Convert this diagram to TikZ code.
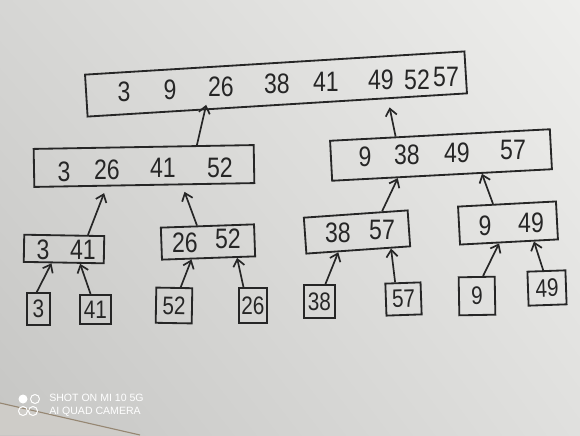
\documentclass[tikz,border=0pt]{standalone}
\usepackage{fontspec}
\setmainfont{Liberation Sans}
\newfontfamily\handfont[FakeStretch=0.82]{Liberation Sans}
\usetikzlibrary{arrows.meta,calc,shadings}
\definecolor{ink}{RGB}{38,38,38}
\definecolor{paperUL}{RGB}{214,214,212}
\definecolor{paperUR}{RGB}{238,238,236}
\definecolor{paperLL}{RGB}{198,198,196}
\definecolor{paperLR}{RGB}{224,224,222}
\definecolor{desk}{RGB}{206,204,200}
\definecolor{deskedge}{RGB}{150,135,115}
\begin{document}
\begin{tikzpicture}[x=0.025cm,y=-0.025cm,
  box/.style={draw=ink,line width=1.3pt,inner sep=0pt},
  num/.style={text=ink,font=\handfont\fontsize{20}{22}\selectfont,inner sep=0pt},
  leaf/.style={box,text=ink,font=\handfont\fontsize{18}{20}\selectfont},
  arr/.style={draw=ink,line width=1.2pt,-{Straight Barb[length=5pt,width=8pt]}},
  wmark/.style={text=white,font=\fontsize{7.5}{8}\selectfont,inner sep=0pt,anchor=west}]
\useasboundingbox (0,0) rectangle (580,435);
% paper
\shade[upper left=paperUL,upper right=paperUR,lower left=paperLL,lower right=paperLR]
  (0,0) rectangle (580,435);
\fill[desk] (0,403) -- (140,435) -- (0,435) -- cycle;
\draw[deskedge,line width=0.8pt] (0,403) -- (140,435);

% boxes
\node[box,minimum width=9.5cm,minimum height=1.05cm,rotate=3.5] (top) at (276,84) {};
\node[box,minimum width=5.5cm,minimum height=0.95cm,rotate=1] (lL) at (144,166) {};
\node[box,minimum width=5.5cm,minimum height=1.0cm,rotate=3] (lR) at (441,155) {};
\node[box,minimum width=2.0cm,minimum height=0.68cm,rotate=-1] (a) at (64,249) {};
\node[box,minimum width=2.33cm,minimum height=0.8cm,rotate=2] (b) at (208,242) {};
\node[box,minimum width=2.6cm,minimum height=0.9cm,rotate=4] (c) at (357,232) {};
\node[box,minimum width=2.45cm,minimum height=0.95cm,rotate=3] (d) at (508,223) {};

% numbers in merged boxes
\node[num] (t1) at (124,92) {3};
\node[num] (t2) at (170,90) {9};
\node[num] (t3) at (221,87) {26};
\node[num] (t4) at (277,84) {38};
\node[num] (t5) at (326,82) {41};
\node[num] (t6) at (381,80) {49};
\node[num] (t7) at (417,80) {52};
\node[num] (t8) at (446,77) {57};

\node[num] (u1) at (64,172) {3};
\node[num] (u2) at (107,170) {26};
\node[num] (u3) at (163,168) {41};
\node[num] (u4) at (220,168) {52};

\node[num] (v1) at (365,157) {9};
\node[num] (v2) at (407,155) {38};
\node[num] (v3) at (457,153) {49};
\node[num] (v4) at (513,150) {57};

\node[num] (a1) at (43,250) {3};
\node[num] (a2) at (83,250) {41};
\node[num] (b1) at (185,243) {26};
\node[num] (b2) at (228,239) {52};
\node[num] (c1) at (338,233) {38};
\node[num] (c2) at (382,230) {57};
\node[num] (d1) at (485,226) {9};
\node[num] (d2) at (531,223) {49};

% leaves
\node[leaf,minimum width=0.58cm,minimum height=0.8cm] (l3) at (38.5,309) {3};
\node[leaf,minimum width=0.78cm,minimum height=0.73cm] (l41) at (95.5,309.5) {41};
\node[leaf,minimum width=0.9cm,minimum height=0.88cm,rotate=-1] (l52) at (174,305.5) {52};
\node[leaf,minimum width=0.7cm,minimum height=0.88cm] (l26) at (253,305.5) {26};
\node[leaf,minimum width=0.78cm,minimum height=0.83cm] (l38) at (319.5,301.5) {38};
\node[leaf,minimum width=0.88cm,minimum height=0.8cm,rotate=2] (l57) at (403.5,299) {57};
\node[leaf,minimum width=0.9cm,minimum height=0.95cm,rotate=1] (l9) at (477,296) {9};
\node[leaf,minimum width=0.95cm,minimum height=0.85cm,rotate=2] (l49) at (547,288) {49};

% arrows leaves -> pairs
\draw[arr] ($(l3.north west)!0.43!(l3.north east)$) -- ($(a.south west)!0.35!(a.south east)$);
\draw[arr] ($(l41.north west)!0.35!(l41.north east)$) -- ($(a.south west)!0.70!(a.south east)$);
\draw[arr] ($(l52.north west)!0.67!(l52.north east)$) -- ($(b.south west)!0.32!(b.south east)$);
\draw[arr] ($(l26.north west)!0.18!(l26.north east)$) -- ($(b.south west)!0.80!(b.south east)$);
\draw[arr] ($(l38.north west)!0.68!(l38.north east)$) -- ($(c.south west)!0.31!(c.south east)$);
\draw[arr] ($(l57.north west)!0.29!(l57.north east)$) -- ($(c.south west)!0.81!(c.south east)$);
\draw[arr] ($(l9.north west)!0.67!(l9.north east)$) -- ($(d.south west)!0.40!(d.south east)$);
\draw[arr] ($(l49.north west)!0.42!(l49.north east)$) -- ($(d.south west)!0.75!(d.south east)$);

% arrows pairs -> halves
\draw[arr,shorten >=5pt] ($(a.north west)!0.79!(a.north east)$) -- ($(lL.south west)!0.33!(lL.south east)$);
\draw[arr,shorten >=5pt] ($(b.north west)!0.39!(b.north east)$) -- ($(lL.south west)!0.67!(lL.south east)$);
\draw[arr] ($(c.north west)!0.75!(c.north east)$) -- ($(lR.south west)!0.30!(lR.south east)$);
\draw[arr] ($(d.north west)!0.36!(d.north east)$) -- ($(lR.south west)!0.68!(lR.south east)$);

% arrows halves -> top
\draw[arr,shorten >=-4pt] ($(lL.north west)!0.74!(lL.north east)$) -- ($(top.south west)!0.31!(top.south east)$);
\draw[arr,shorten >=6pt] ($(lR.north west)!0.30!(lR.north east)$) -- ($(top.south west)!0.79!(top.south east)$);

% watermark
\fill[white] (23,399) circle (4.5);
\draw[white,line width=0.7pt] (35,399) circle (4.5);
\draw[white,line width=0.7pt] (23,411) circle (4.5);
\draw[white,line width=0.7pt] (33,411) circle (4.5);
\node[wmark] (m1) at (49,398) {SHOT ON MI 10 5G};
\node[wmark] (m2) at (49,412) {AI QUAD CAMERA};
\end{tikzpicture}
\end{document}
